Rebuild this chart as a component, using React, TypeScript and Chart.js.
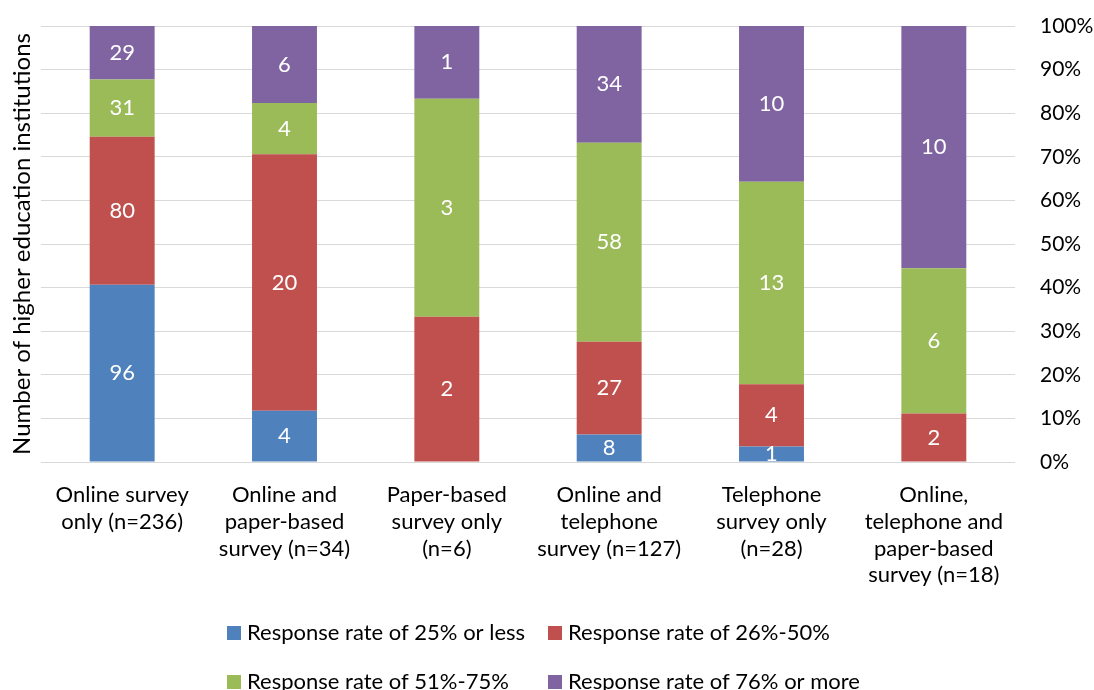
import React, { useEffect, useRef } from "react";
import { Chart, registerables } from "chart.js";

Chart.register(...registerables);

const categories: string[][] = [
  ["Online survey", "only (n=236)"],
  ["Online and", "paper-based", "survey (n=34)"],
  ["Paper-based", "survey only", "(n=6)"],
  ["Online and", "telephone", "survey (n=127)"],
  ["Telephone", "survey only", "(n=28)"],
  ["Online,", "telephone and", "paper-based", "survey (n=18)"],
];

const seriesNames = [
  "Response rate of 25% or less",
  "Response rate of 26%-50%",
  "Response rate of 51%-75%",
  "Response rate of 76% or more",
];

const rate25OrLess = [96, 4, 0, 8, 1, 0];
const rate26to50 = [80, 20, 2, 27, 4, 2];
const rate51to75 = [31, 4, 3, 58, 13, 6];
const rate76OrMore = [29, 6, 1, 34, 10, 10];

const seriesColors = ["#4F81BD", "#C0504D", "#9BBB59", "#8064A2"];

const axisTitle = "Number of higher education institutions";

const FONT = "Lato, 'Open Sans', sans-serif";
const FONT_SIZE = 22;

const allSeries = [rate25OrLess, rate26to50, rate51to75, rate76OrMore];
const totals = categories.map((_, i) =>
  allSeries.reduce((s, arr) => s + arr[i], 0)
);

const labelPlugin = {
  id: "segmentLabels",
  afterDatasetsDraw(chart: any) {
    const ctx = chart.ctx;
    ctx.save();
    ctx.fillStyle = "#ffffff";
    ctx.font = `${FONT_SIZE}px ${FONT}`;
    ctx.textAlign = "center";
    ctx.textBaseline = "middle";
    chart.data.datasets.forEach((ds: any, di: number) => {
      const meta = chart.getDatasetMeta(di);
      meta.data.forEach((el: any, i: number) => {
        const count = ds.counts[i];
        if (!count) return;
        const p = el.getProps(["x", "y", "base"], true);
        ctx.fillText(String(count), p.x, (p.y + p.base) / 2);
      });
    });
    ctx.restore();
  },
};

const legendPlugin = {
  id: "gridLegend",
  afterDraw(chart: any) {
    const ctx = chart.ctx;
    const center = chart.width / 2;
    const colX = [center - 320, center + 1];
    const rowY = [chart.chartArea.bottom + 171, chart.chartArea.bottom + 220];
    ctx.save();
    ctx.font = `${FONT_SIZE}px ${FONT}`;
    ctx.textAlign = "left";
    ctx.textBaseline = "middle";
    seriesNames.forEach((name, i) => {
      const cx = colX[i % 2];
      const cy = rowY[Math.floor(i / 2)];
      ctx.fillStyle = seriesColors[i];
      ctx.fillRect(cx, cy - 7, 14, 14);
      ctx.fillStyle = "#000000";
      ctx.fillText(name, cx + 20, cy);
    });
    ctx.restore();
  },
};

export default function App() {
  const canvasRef = useRef<HTMLCanvasElement | null>(null);

  useEffect(() => {
    if (!canvasRef.current) return;
    const chart = new Chart(canvasRef.current, {
      type: "bar",
      data: {
        labels: categories,
        datasets: allSeries.map((arr, si) => ({
          label: seriesNames[si],
          data: arr.map((v, i) => (v / totals[i]) * 100),
          counts: arr,
          backgroundColor: seriesColors[si],
          borderWidth: 0,
          barPercentage: 0.4,
          categoryPercentage: 1,
          yAxisID: "y",
        })) as any,
      },
      options: {
        responsive: false,
        animation: false,
        layout: { padding: { top: 26, left: 0, right: 0, bottom: 0 } },
        plugins: {
          legend: { display: false },
          tooltip: { enabled: false },
        },
        scales: {
          x: {
            stacked: true,
            grid: { display: false, drawTicks: false },
            border: { display: false },
            ticks: {
              color: "#000000",
              font: { family: FONT, size: FONT_SIZE, lineHeight: 1.21 },
              maxRotation: 0,
              autoSkip: false,
              padding: 20,
            },
            afterFit: (s: any) => {
              s.height = 228;
            },
          },
          yL: {
            type: "linear",
            position: "left",
            min: 0,
            max: 100,
            grid: { display: false, drawTicks: false },
            border: { display: false },
            ticks: { display: false },
            title: {
              display: true,
              text: axisTitle,
              color: "#000000",
              font: { family: FONT, size: 24 },
              padding: { top: 8, bottom: 0 },
            },
            afterFit: (s: any) => {
              s.width = 41;
            },
          },
          y: {
            type: "linear",
            position: "right",
            stacked: true,
            min: 0,
            max: 100,
            grid: {
              color: "#D9D9D9",
              lineWidth: 1,
              drawTicks: true,
              tickLength: 22,
              tickColor: "rgba(0,0,0,0)",
            },
            border: { display: false },
            ticks: {
              stepSize: 10,
              color: "#000000",
              font: { family: FONT, size: 21 },
              padding: 3,
              callback: (v: any) => `${v}%`,
            },
            afterFit: (s: any) => {
              s.width = 79;
            },
          },
        },
      },
      plugins: [labelPlugin, legendPlugin],
    });
    return () => chart.destroy();
  }, []);

  return (
    <div style={{ position: "absolute", left: 0, top: 0, width: 1094, height: 690, background: "#ffffff" }}>
      <canvas ref={canvasRef} width={1094} height={690} />
    </div>
  );
}
